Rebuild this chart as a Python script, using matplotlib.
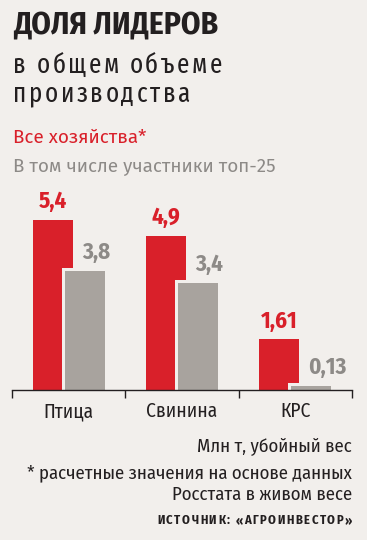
import matplotlib
matplotlib.use("Agg")
import matplotlib.pyplot as plt
from matplotlib import font_manager as fm

# ---- data ----
categories = ["Птица", "Свинина", "КРС"]
all_farms = [5.4, 4.9, 1.61]
top25 = [3.8, 3.4, 0.13]
all_labels = ["5,4", "4,9", "1,61"]
top_labels = ["3,8", "3,4", "0,13"]

title = "ДОЛЯ ЛИДЕРОВ"
subtitle1 = "в общем объеме"
subtitle2 = "производства"
legend1 = "Все хозяйства*"
legend2 = "В том числе участники топ-25"
unit_note = "Млн т, убойный вес"
foot1 = "* расчетные значения на основе данных"
foot2 = "Росстата в живом весе"
source = "ИСТОЧНИК: «АГРОИНВЕСТОР»"

# ---- style ----
BG = "#f2efec"
RED = "#d9202a"
GRAY_BAR = "#a8a39e"
GRAY_TXT = "#8d8a87"
DARK = "#231f20"

names = {f.name for f in fm.fontManager.ttflist}


def fams(*cands):
    return [n for n in cands if n in names] + ["DejaVu Sans"]


COND = fams("Fira Sans Condensed", "Roboto Condensed", "Open Sans")
XCOND = fams("Fira Sans Extra Condensed", "Fira Sans Condensed", "Roboto Condensed")
REG = fams("Fira Sans", "Fira Sans Condensed", "Open Sans")
plt.rcParams["font.family"] = COND

W, H = 367, 540
fig = plt.figure(figsize=(W / 100, H / 100), dpi=100, facecolor=BG)
renderer = fig.canvas.get_renderer()


def fy(y):
    return 1 - y / H


def text_width(s, **kw):
    t = fig.text(0, 0, s, **kw)
    w = t.get_window_extent(renderer).width
    t.remove()
    return w


def tracked(x, y, s, track=None, target=None, ha="left", **kw):
    base = text_width("HH", **kw)
    adv = [text_width("H" + c + "H", **kw) - base for c in s]
    natural = sum(adv[:-1]) + text_width(s[-1], **kw)
    if target is not None:
        track = (target - natural) / (len(s) - 1)
    total = natural + track * (len(s) - 1)
    cx = x if ha == "left" else x - total
    for c, a in zip(s, adv):
        if c != " ":
            fig.text(cx / W, fy(y), c, ha="left", va="baseline", **kw)
        cx += a + track


# ---- header ----
fig.text(13 / W, fy(35), title, fontsize=22.5, fontweight="bold", color=DARK,
         ha="left", va="baseline")
tracked(13, 73.3, subtitle1, target=209, fontsize=19.5, fontweight="normal",
        family=XCOND, color=DARK)
tracked(13, 101.5, subtitle2, target=177, fontsize=19.5, fontweight="normal",
        family=XCOND, color=DARK)
fig.text(13 / W, fy(143.3), legend1, fontsize=13.5, family=REG, color=RED,
         ha="left", va="baseline")
fig.text(13 / W, fy(170.7), legend2, fontsize=13.5, family=REG, color=GRAY_TXT,
         ha="left", va="baseline")

# ---- chart ----
ax_bottom, ax_top = 390, 190
ax = fig.add_axes([12 / W, 1 - ax_bottom / H, 340 / W, (ax_bottom - ax_top) / H])
ax.set_facecolor(BG)
px_per_unit = 31.4
ax.set_ylim(0, (ax_bottom - ax_top) / px_per_unit)
ax.set_xlim(-0.5, 2.5)

x = list(range(len(categories)))
bw = 0.354
off = 0.142
gap = 3 / 113.3
gap_y = 3 / px_per_unit
ax.bar([i - off for i in x], all_farms, width=bw, color=RED, zorder=1)
ax.bar([i + off for i in x], [v + gap_y for v in top25], width=bw + 2 * gap, color=BG, zorder=1.1)
ax.bar([i + off for i in x], top25, width=bw, color=GRAY_BAR, zorder=1.2)

for i, v, lab in zip(x, all_farms, all_labels):
    ax.annotate(lab, (i - off, v), xytext=(0, 8.6), textcoords="offset points",
                ha="center", va="baseline", fontsize=16.5, fontweight="bold", color=RED)
for i, v, lab in zip(x, top25, top_labels):
    ax.annotate(lab, (i + off - 0.027, v), xytext=(0, 8.6), textcoords="offset points",
                ha="left", va="baseline", fontsize=16.5, fontweight="bold", color=GRAY_TXT)

for s in ["top", "left", "right"]:
    ax.spines[s].set_visible(False)
ax.spines["bottom"].set_color(DARK)
ax.spines["bottom"].set_linewidth(1.0)
ax.set_yticks([])
ax.set_xticks(x)
ax.set_xticklabels(categories, fontsize=14, color=DARK)
ax.tick_params(axis="x", which="major", length=0, pad=8.3)
ax.set_xticks([-0.5, 0.5, 1.5, 2.5], minor=True)
ax.tick_params(axis="x", which="minor", length=5.4, width=1.0, color=DARK, direction="out")

# ---- footer ----
fig.text(352 / W, fy(451), unit_note, fontsize=13.5, color=DARK, ha="right", va="baseline")
fig.text(352 / W, fy(478), foot1, fontsize=13.5, color=DARK, ha="right", va="baseline")
fig.text(352 / W, fy(500), foot2, fontsize=13.5, color=DARK, ha="right", va="baseline")
tracked(352, 524, source, target=195, ha="right", fontsize=9, fontweight="bold", color=DARK)

fig.savefig("out.png", dpi=100, facecolor=BG)
